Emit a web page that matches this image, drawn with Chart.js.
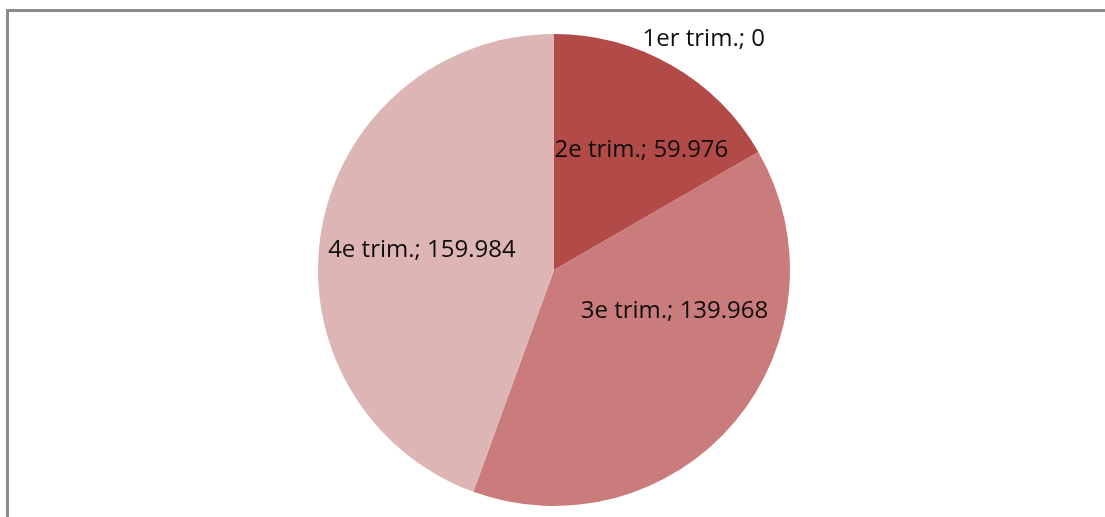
<!DOCTYPE html>
<html>
<head>
<meta charset="utf-8">
<script src="https://cdn.jsdelivr.net/npm/chart.js@4"></script>
<style>
  html, body { margin: 0; padding: 0; background: #fff; }
  body { width: 1105px; height: 517px; position: relative; overflow: hidden; }
  .frame {
    position: absolute; left: 6px; top: 9px; width: 1200px; height: 600px;
    border-left: 3px solid #8c8c8c; border-top: 3px solid #8c8c8c;
  }
  .wrap { position: absolute; left: 0; top: 0; width: 1105px; height: 517px; }
</style>
</head>
<body>
<div class="frame"></div>
<div class="wrap"><canvas id="pieChart" width="1105" height="517"></canvas></div>
<script>
const categories = ['1er trim.', '2e trim.', '3e trim.', '4e trim.'];
const values = [0, 59.976, 139.968, 159.984];
const valueLabels = ['0', '59.976', '139.968', '159.984'];
const sliceColors = ['#a33a38', '#b24a47', '#c97c7b', '#deb5b5'];

// where each label sits: angle from 12 o'clock (deg, clockwise) and distance as a share of the radius
const labelAngle = [33, 36, 109, 278.6];
const labelDist = [1.165, 0.63, 0.54, 0.566];

const sliceLabels = {
    id: 'sliceLabels',
    afterDatasetsDraw(chart) {
        const ctx = chart.ctx;
        const arc = chart.getDatasetMeta(0).data[0];
        const cx = arc.x, cy = arc.y, r = arc.outerRadius;
        ctx.save();
        ctx.font = '24px "Open Sans", sans-serif';
        ctx.fillStyle = '#0d0d0d';
        ctx.textAlign = 'center';
        ctx.textBaseline = 'middle';
        categories.forEach((cat, i) => {
            const a = labelAngle[i] * Math.PI / 180;
            const x = cx + Math.sin(a) * r * labelDist[i];
            const y = cy - Math.cos(a) * r * labelDist[i];
            ctx.fillText(cat + '; ' + valueLabels[i], x, y);
        });
        ctx.restore();
    }
};

new Chart(document.getElementById('pieChart').getContext('2d'), {
    type: 'pie',
    data: {
        labels: categories,
        datasets: [{
            data: values,
            backgroundColor: sliceColors,
            borderWidth: 0
        }]
    },
    options: {
        responsive: false,
        animation: false,
        layout: { padding: { top: 34, bottom: 11, left: 3, right: 0 } },
        plugins: {
            legend: { display: false },
            tooltip: { enabled: false }
        }
    },
    plugins: [sliceLabels]
});
</script>
</body>
</html>
